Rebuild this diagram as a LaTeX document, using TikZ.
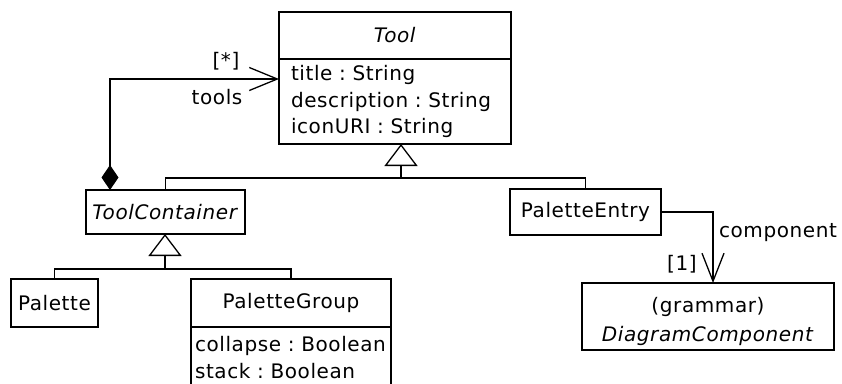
\documentclass[tikz,border=0pt]{standalone}
\usepackage{fontspec}
\setmainfont{DejaVu Sans}[LetterSpace=3]
\usetikzlibrary{arrows.meta, positioning}
\frenchspacing

\begin{document}
\begin{tikzpicture}[x=1pt, y=-1pt,
  cls/.style={draw, line width=1.3pt, inner sep=0pt, outer sep=0pt, align=center},
  attr/.style={draw, line width=1.3pt, inner ysep=0pt, outer sep=0pt, align=left},
  conn/.style={line width=1.3pt},
  gen/.style={conn, -{Triangle[open, length=22pt, width=33pt, line width=1.3pt]}},
  assoc/.style={conn, -{Straight Barb[length=28pt, width=22pt, line width=1.3pt]}},
  comp/.style={conn, {Diamond[length=25pt, width=17pt]}-{Straight Barb[length=28pt, width=23pt, line width=1.3pt]}},
  role/.style={inner sep=1pt},
  every node/.style={font=\fontsize{20}{26.5}\selectfont},
]
\useasboundingbox (0,0) rectangle (842,383);

%% -- classes ---------------------------------------------------------
\node[cls, minimum width=232, minimum height=47] (tool) at (395,35.5) {\textit{Tool}};
\node[attr, below=0pt of tool, minimum width=232, minimum height=85,
  text width=208, inner xsep=12pt] (toolattr)
  {title : String\\description : String\\iconURI : String};

\node[cls, minimum width=159, minimum height=44] (tcont) at (165.5,212) {\textit{ToolContainer}};
\node[cls, minimum width=151, minimum height=46] (pentry) at (585.5,212) {PaletteEntry};

\node[cls, minimum width=87, minimum height=48] (palette) at (54.5,303) {Palette};
\node[cls, minimum width=200, minimum height=48] (pgroup) at (291,303) {PaletteGroup};
\node[attr, below=0pt of pgroup, minimum width=200, minimum height=61,
  text width=192, inner xsep=4pt] (pgroupattr)
  {collapse : Boolean\\stack : Boolean};

\node[cls, minimum width=252, minimum height=67] (dcomp) at (708,316.5) {};
\node[align=center, inner sep=0pt] (dcompname) at ([yshift=-5pt]dcomp.center)
  {(grammar)\\[2.5pt]\textit{DiagramComponent}};

%% -- generalisations -------------------------------------------------
\coordinate (j1) at (401,178);
\draw[gen] (j1) -- (j1 |- toolattr.south);
\draw[conn] (tcont.north) |- (j1) -| (pentry.north);

\coordinate (j2) at (165,269);
\draw[gen] (j2) -- (j2 |- tcont.south);
\draw[conn] (palette.north) |- (j2) -| (pgroup.north);

%% -- associations ----------------------------------------------------
\draw[comp] ([xshift=24pt]tcont.north west) |- ([yshift=-20pt]tool.south west);
\node[role] (many) at (226,61) {[*]};
\node[role] (tools) at (217,97) {tools};

\draw[assoc] (pentry.east) -| ([xshift=5pt]dcomp.north);
\node[role] (cmpname) at (778,233) {component};
\node[role] (one) at (682,264) {[1]};

\end{tikzpicture}
\end{document}
